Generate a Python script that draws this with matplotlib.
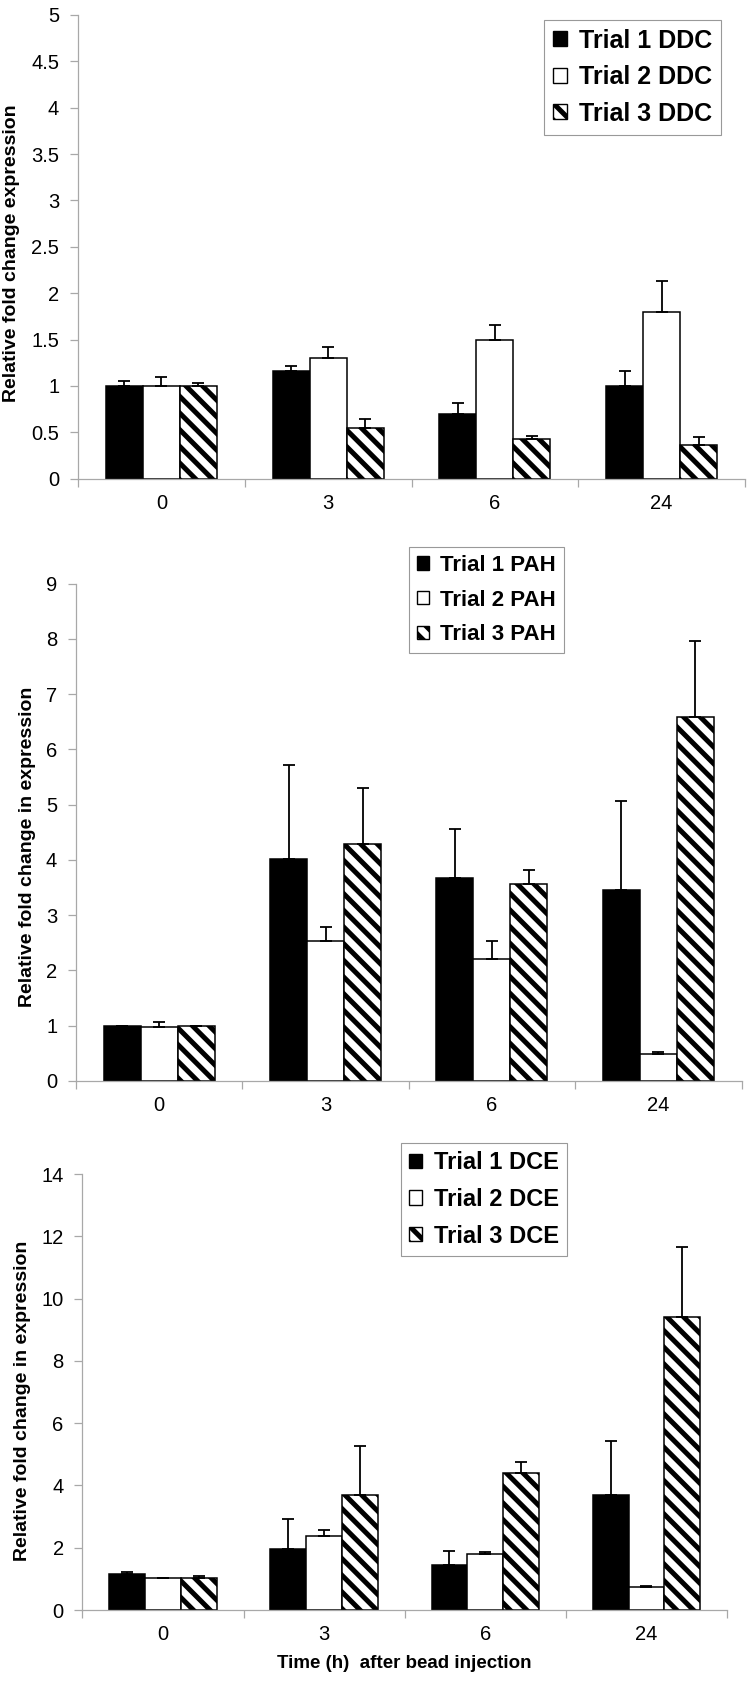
import numpy as np
import matplotlib.pyplot as plt
from matplotlib.patches import Patch
from matplotlib.ticker import MultipleLocator, FixedLocator, FormatStrFormatter

plt.rcParams['font.family'] = ['Liberation Sans', 'DejaVu Sans']
plt.rcParams['hatch.linewidth'] = 3.6
plt.rcParams['hatch.color'] = 'black'

# time points (h) after bead injection
times = ['0', '3', '6', '24']

# DDC: mean fold change and upper error
ddc_t1 = [1.00, 1.16, 0.70, 1.00]
ddc_t2 = [1.00, 1.30, 1.50, 1.80]
ddc_t3 = [1.00, 0.55, 0.43, 0.36]
ddc_e1 = [0.05, 0.05, 0.12, 0.16]
ddc_e2 = [0.10, 0.12, 0.16, 0.33]
ddc_e3 = [0.03, 0.09, 0.03, 0.09]

# PAH
pah_t1 = [1.00, 4.02, 3.67, 3.46]
pah_t2 = [0.97, 2.54, 2.20, 0.49]
pah_t3 = [1.00, 4.28, 3.57, 6.59]
pah_e1 = [0.00, 1.70, 0.89, 1.61]
pah_e2 = [0.10, 0.24, 0.34, 0.03]
pah_e3 = [0.00, 1.03, 0.25, 1.38]

# DCE
dce_t1 = [1.15, 1.97, 1.45, 3.69]
dce_t2 = [1.04, 2.37, 1.80, 0.73]
dce_t3 = [1.04, 3.69, 4.40, 9.40]
dce_e1 = [0.06, 0.96, 0.46, 1.73]
dce_e2 = [0.00, 0.21, 0.06, 0.04]
dce_e3 = [0.05, 1.59, 0.36, 2.24]

W, H = 749, 1691
fig = plt.figure(figsize=(W/100, H/100), dpi=100)

barStyles = [dict(facecolor='black', hatch=None),
             dict(facecolor='white', hatch=None),
             dict(facecolor='white', hatch='\\\\')]
axisGray = '#a8a8a8'


def drawPanel(rect, vals, errs, names, ymax, ystep, ylab, ylabPos, legBox, legSize, legSpace, xlab=None):
    ax = fig.add_axes([rect[0]/W, 1 - rect[3]/H, (rect[2]-rect[0])/W, (rect[3]-rect[1])/H])
    x = np.arange(len(times))
    w = 1/4.5
    for i in range(3):
        st = barStyles[i]
        ax.bar(x + (i-1)*w, vals[i], w, facecolor=st['facecolor'], hatch=st['hatch'],
               edgecolor='black', linewidth=1.1, zorder=2)
        ax.errorbar(x + (i-1)*w, vals[i], yerr=[np.zeros(len(times)), errs[i]], fmt='none',
                    ecolor='black', elinewidth=1.3, capsize=4.6, capthick=1.3, zorder=3)
    ax.set_xlim(-0.5, 3.5)
    ax.set_ylim(0, ymax)
    ax.yaxis.set_major_locator(MultipleLocator(ystep))
    ax.yaxis.set_major_formatter(FormatStrFormatter('%g'))
    ax.set_xticks(x)
    ax.set_xticklabels(times)
    ax.xaxis.set_minor_locator(FixedLocator(np.arange(-0.5, 4, 1)))
    ax.tick_params(axis='x', which='major', length=0, pad=11, labelsize=14.5)
    ax.tick_params(axis='x', which='minor', length=6, width=0.9, color=axisGray, direction='out')
    ax.tick_params(axis='y', length=6, width=0.9, color=axisGray, pad=7.5, labelsize=14.5)
    for s in ['top', 'right']:
        ax.spines[s].set_visible(False)
    for s in ['left', 'bottom']:
        ax.spines[s].set_color(axisGray)
        ax.spines[s].set_linewidth(0.9)
    ax.set_ylabel(ylab, fontsize=14, fontweight='bold')
    ax.yaxis.set_label_coords(ylabPos[0], ylabPos[1])
    if xlab:
        ax.set_xlabel(xlab, fontsize=13.5, fontweight='bold', labelpad=8)

    # legend squares, same fill/hatch as the bars
    handles = [Patch(facecolor=st['facecolor'], edgecolor='black', hatch=st['hatch'], linewidth=1.0)
               for st in barStyles]
    leg = ax.legend(handles, names, loc='upper left',
                    bbox_to_anchor=(legBox[0]/W, 1 - legBox[1]/H), bbox_transform=fig.transFigure,
                    frameon=True, fancybox=False, framealpha=1, edgecolor='#999999',
                    prop=dict(weight='bold', size=legSize), handlelength=0.55, handleheight=0.55,
                    handletextpad=0.5, labelspacing=legSpace, borderpad=0.35, borderaxespad=0)
    leg.get_frame().set_linewidth(0.8)
    return ax


drawPanel((78, 15, 745, 478.7), [ddc_t1, ddc_t2, ddc_t3], [ddc_e1, ddc_e2, ddc_e3],
          ['Trial 1 DDC', 'Trial 2 DDC', 'Trial 3 DDC'], 5, 0.5,
          'Relative fold change expression', (-0.087, 0.487), (544, 20), 18, 0.5)

drawPanel((76, 583.6, 741.5, 1081), [pah_t1, pah_t2, pah_t3], [pah_e1, pah_e2, pah_e3],
          ['Trial 1 PAH', 'Trial 2 PAH', 'Trial 3 PAH'], 9, 1,
          'Relative fold change in expression', (-0.060, 0.47), (409, 547), 16, 0.62)

drawPanel((82.4, 1174, 727, 1610), [dce_t1, dce_t2, dce_t3], [dce_e1, dce_e2, dce_e3],
          ['Trial 1 DCE', 'Trial 2 DCE', 'Trial 3 DCE'], 14, 2,
          'Relative fold change in expression', (-0.080, 0.48), (401, 1143), 17, 0.58,
          xlab='Time (h)  after bead injection')

fig.savefig('out.png', dpi=100)
